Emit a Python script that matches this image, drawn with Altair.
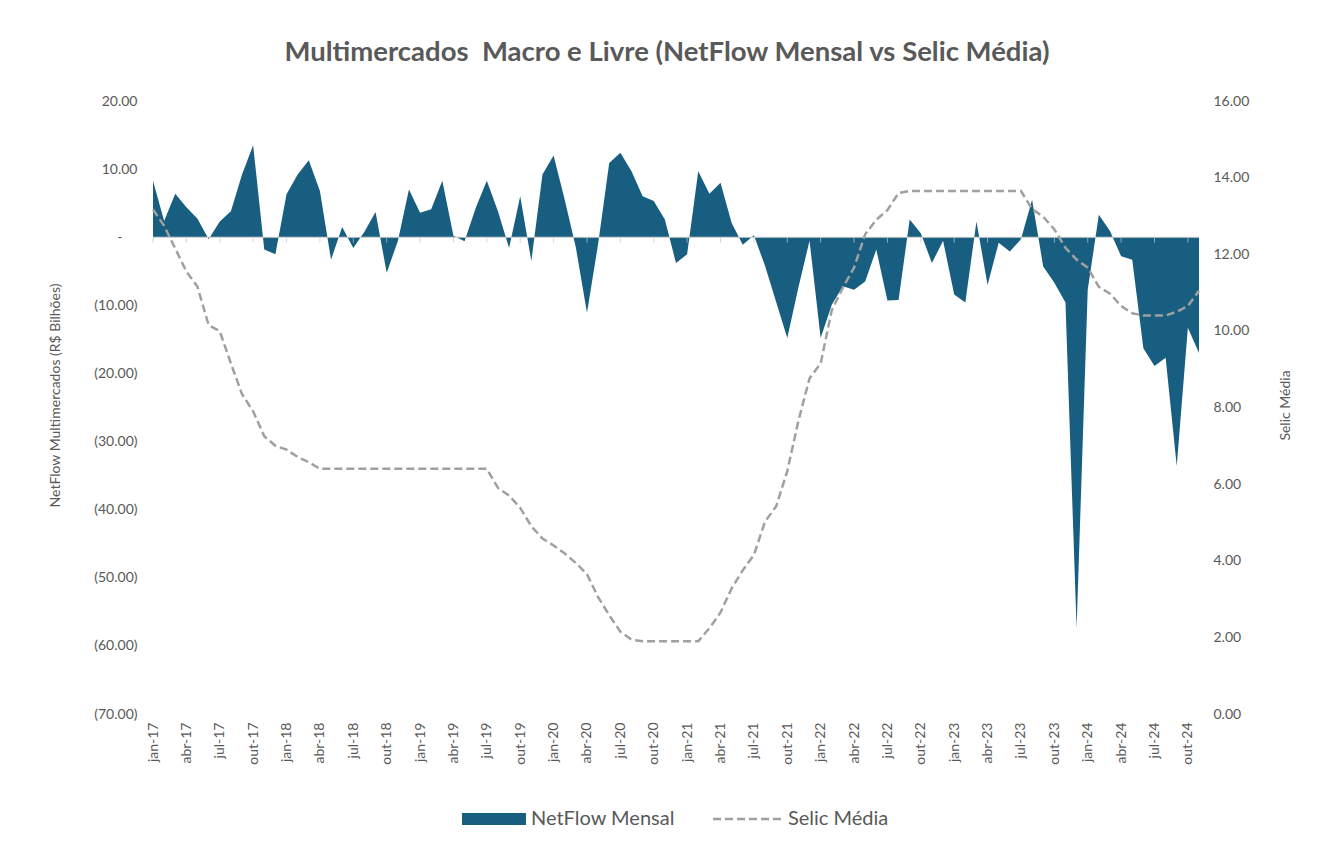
import altair as alt
import pandas as pd

# ---- data ----
mes_abrev = ["jan", "fev", "mar", "abr", "mai", "jun", "jul", "ago", "set", "out", "nov", "dez"]
meses = [f"{m}-{a:02d}" for a in range(17, 25) for m in mes_abrev][:95]  # jan-17 .. nov-24

netflow = [
    8.3, 2.4, 6.4, 4.4, 2.7, -0.3, 2.3, 3.8, 9.2, 13.5, -1.8, -2.5,          # 2017
    6.3, 9.2, 11.3, 6.8, -3.3, 1.5, -1.6, 0.8, 3.7, -5.2, -0.6, 7.0,          # 2018
    3.6, 4.1, 8.3, 0.2, -0.6, 4.3, 8.3, 3.8, -1.6, 6.0, -3.5, 9.2,            # 2019
    12.0, 5.5, -1.5, -11.1, -1.0, 10.9, 12.4, 9.7, 6.0, 5.3, 2.6, -3.8,       # 2020
    -2.5, 9.7, 6.4, 8.0, 2.1, -1.1, 0.3, -4.2, -9.5, -14.8, -7.4, -0.5,       # 2021
    -14.8, -9.9, -7.2, -7.7, -6.5, -1.8, -9.3, -9.2, 2.6, 0.6, -3.8, -0.5,    # 2022
    -8.4, -9.6, 2.3, -7.0, -0.8, -2.1, -0.3, 5.5, -4.3, -6.7, -9.6, -57.4,    # 2023
    -7.7, 3.3, 0.9, -2.8, -3.3, -16.3, -18.9, -17.7, -33.6, -13.3, -17.0,     # 2024
]

selic = [
    13.17, 12.74, 12.15, 11.55, 11.15, 10.15, 9.99, 9.15, 8.35, 7.90, 7.25, 7.00,
    6.90, 6.71, 6.57, 6.40, 6.40, 6.40, 6.40, 6.40, 6.40, 6.40, 6.40, 6.40,
    6.40, 6.40, 6.40, 6.40, 6.40, 6.40, 6.40, 5.90, 5.70, 5.38, 4.90, 4.58,
    4.40, 4.19, 3.94, 3.65, 3.05, 2.58, 2.15, 1.94, 1.90, 1.90, 1.90, 1.90,
    1.90, 1.90, 2.24, 2.65, 3.28, 3.75, 4.15, 5.02, 5.42, 6.34, 7.65, 8.76,
    9.15, 10.54, 11.13, 11.65, 12.52, 12.90, 13.15, 13.60, 13.65, 13.65, 13.65, 13.65,
    13.65, 13.65, 13.65, 13.65, 13.65, 13.65, 13.65, 13.18, 12.98, 12.65, 12.17, 11.86,
    11.65, 11.15, 10.97, 10.65, 10.46, 10.40, 10.40, 10.40, 10.50, 10.65, 11.05,
]

series_names = ["NetFlow Mensal", "Selic Média"]
left_ticks = [20, 10, 0, -10, -20, -30, -40, -50, -60, -70]
right_ticks = [0, 2, 4, 6, 8, 10, 12, 14, 16]

BLUE = "#175E80"
GRAY_LINE = "#A0A0A0"
TXT = "#595959"
FONT = "Lato"

df = pd.DataFrame({
    "mes": meses, "netflow": netflow, "selic": selic,
    "serie_a": series_names[0], "serie_b": series_names[1],
})
df_ticks = df.iloc[::3]

W, H = 1046, 613

x_enc = alt.X(
    "mes:O",
    sort=meses,
    scale=alt.Scale(type="point", padding=0),
    axis=alt.Axis(
        values=meses[::3], labelAngle=-90, labelPadding=8, ticks=False, domain=False,
        labelFontSize=14, labelColor=TXT, labelFont=FONT, title=None,
    ),
)

left_scale = alt.Scale(domain=[-70, 20], nice=False, zero=False)
left_axis = alt.Axis(
    values=left_ticks,
    labelExpr="datum.value == 0 ? '-' : (datum.value < 0 ? '(' + format(-datum.value, '.2f') + ')' : format(datum.value, '.2f'))",
    grid=False, domain=False, ticks=False,
    labelPadding=alt.ExprRef(expr="datum.value == 0 ? 31 : 16"),
    labelFontSize=14, labelColor=TXT, labelFont=FONT,
    title="NetFlow Multimercados (R$ Bilhões)", titleFontSize=14, titleFont=FONT,
    titleColor=TXT, titleFontWeight="normal", titleAngle=270,
    titleX=-98, titleY=294, titleAlign="center", titleBaseline="middle",
)

area = alt.Chart(df).mark_area(interpolate="linear").encode(
    x=x_enc,
    y=alt.Y("netflow:Q", scale=left_scale, axis=left_axis),
    color=alt.Color(
        "serie_a:N",
        scale=alt.Scale(domain=[series_names[0]], range=[BLUE]),
        legend=alt.Legend(
            orient="none", legendX=306, legendY=708, title=None, padding=0,
            symbolType="M-1,-0.85H8.14V0.85H-1Z", symbolSize=196, symbolStrokeWidth=0,
            labelOffset=52, labelFontSize=20, labelColor=TXT, labelFont=FONT,
        ),
    ),
)

zero_rule = alt.Chart(df.iloc[:1]).mark_rule(color="#D0D0D0", strokeWidth=1).encode(
    y=alt.YDatum(0, scale=left_scale, axis=left_axis),
)

ticks = alt.Chart(df_ticks).mark_tick(
    orient="vertical", size=5, thickness=1, yOffset=3, color="#C8C8C8"
).encode(
    x=x_enc,
    y=alt.YDatum(0, scale=left_scale, axis=left_axis),
)

left_layer = alt.layer(area, zero_rule, ticks)

line = alt.Chart(df).mark_line(color=GRAY_LINE, strokeWidth=2.5, strokeCap="butt").encode(
    x=x_enc,
    y=alt.Y(
        "selic:Q",
        scale=alt.Scale(domain=[0, 16], nice=False),
        axis=alt.Axis(
            orient="right", values=right_ticks, format=".2f",
            grid=False, domain=False, ticks=False, labelPadding=14,
            labelFontSize=14, labelColor=TXT, labelFont=FONT,
            title="Selic Média", titleFontSize=14, titleFont=FONT, titleColor=TXT,
            titleFontWeight="normal", titleAngle=270,
            titleX=86, titleY=304, titleAlign="center", titleBaseline="middle",
        ),
    ),
    strokeDash=alt.StrokeDash(
        "serie_b:N",
        scale=alt.Scale(domain=[series_names[1]], range=[[8, 4]]),
        legend=alt.Legend(
            orient="none", legendX=557, legendY=708, title=None, padding=0,
            symbolType="M-1,0H8.71", symbolSize=196, symbolStrokeWidth=2.5,
            symbolStrokeColor=GRAY_LINE, symbolFillColor="transparent",
            labelOffset=58, labelFontSize=20, labelColor=TXT, labelFont=FONT,
        ),
    ),
)

chart = (
    alt.layer(left_layer, line)
    .resolve_scale(y="independent", color="independent", strokeDash="independent")
    .properties(
        width=W,
        height=H,
        title=alt.TitleParams(
            "Multimercados\u00a0 Macro e Livre (NetFlow Mensal vs Selic Média)",
            anchor="middle", font=FONT, fontSize=27.5, fontWeight="bold", color=TXT,
            offset=28, dx=-9,
        ),
        autosize=alt.AutoSizeParams(type="none"),
        padding={"left": 145, "top": 93, "right": 100, "bottom": 120},
        background="white",
    )
    .configure_view(stroke=None)
)

chart.save("out.html", embed_options={"renderer": "svg", "actions": False})
